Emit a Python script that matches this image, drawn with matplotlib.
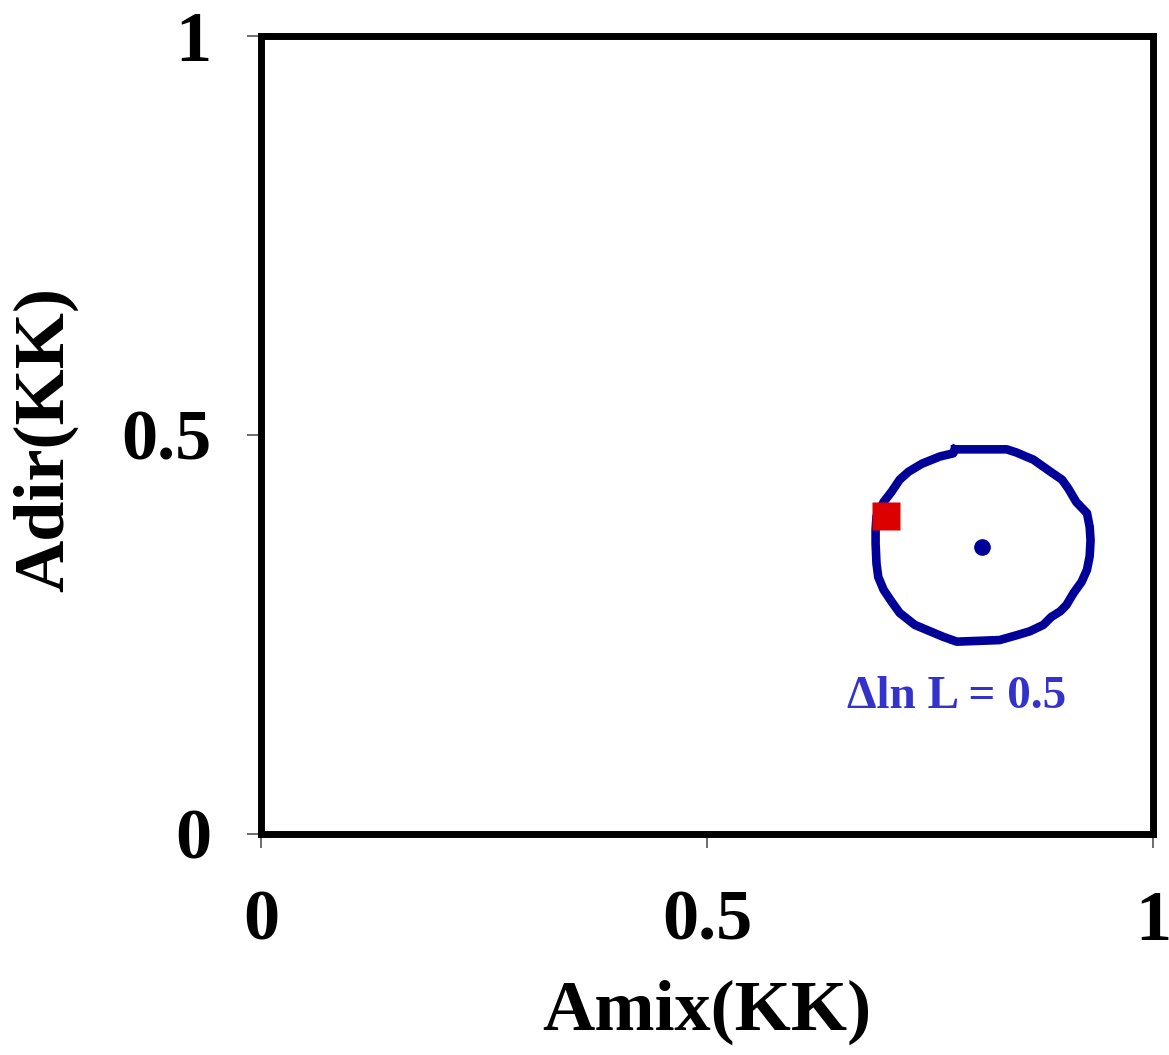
import matplotlib
matplotlib.use("Agg")
import matplotlib.pyplot as plt

# contour of delta lnL = 0.5
contour_x = [0.778, 0.836, 0.847, 0.866, 0.885, 0.898, 0.905, 0.914, 0.926, 0.929,
             0.930, 0.929, 0.926, 0.920, 0.911, 0.903, 0.896, 0.886, 0.877, 0.862,
             0.847, 0.828, 0.780, 0.765, 0.750, 0.733, 0.716, 0.707, 0.698, 0.692,
             0.690, 0.689, 0.689, 0.690, 0.698, 0.707, 0.716, 0.726, 0.741, 0.761,
             0.776, 0.778]
contour_y = [0.482, 0.482, 0.478, 0.469, 0.454, 0.444, 0.433, 0.416, 0.402, 0.385,
             0.368, 0.348, 0.331, 0.316, 0.302, 0.287, 0.279, 0.272, 0.262, 0.254,
             0.249, 0.243, 0.241, 0.247, 0.254, 0.262, 0.277, 0.291, 0.306, 0.322,
             0.339, 0.364, 0.381, 0.398, 0.416, 0.429, 0.444, 0.454, 0.464, 0.473,
             0.477, 0.482]

best_fit = (0.808, 0.360)
reference_point = (0.701, 0.398)

ticks = [0, 0.5, 1]
tick_labels = ["0", "0.5", "1"]

plt.rcParams["font.family"] = ["Liberation Serif", "DejaVu Serif"]
plt.rcParams["font.weight"] = "bold"

fig = plt.figure(figsize=(11.69, 10.55), dpi=100)
ax = fig.add_axes([0.2233, 0.2095, 0.7630, 0.7564])

ax.plot(contour_x, contour_y, color="#000099", lw=6.2, solid_joinstyle="round")
ax.plot(*best_fit, "o", color="#000099", ms=11)
ax.plot(*reference_point, "s", color="#DD0000", ms=20, mec="none")
ax.text(0.780, 0.172, "\u0394ln L = 0.5", color="#3333CC", fontsize=34,
        fontweight="bold", ha="center", va="center")

ax.set_xlim(0, 1)
ax.set_ylim(0, 1)
ax.set_xticks(ticks)
ax.set_xticklabels(tick_labels)
ax.set_yticks(ticks)
ax.set_yticklabels(tick_labels)
ax.tick_params(direction="out", length=10, width=1.2, color="#555555",
               labelsize=52, pad=26)
ax.tick_params(axis="x", pad=30)
for spine in ax.spines.values():
    spine.set_linewidth(5)
    spine.set_color("black")

ax.set_xlabel("Amix(KK)", fontsize=52, fontweight="bold")
ax.set_ylabel("Adir(KK)", fontsize=52, fontweight="bold")
ax.xaxis.set_label_coords(0.5, -0.182)
ax.yaxis.set_label_coords(-0.205, 0.494)

fig.savefig("out.png", dpi=100)
